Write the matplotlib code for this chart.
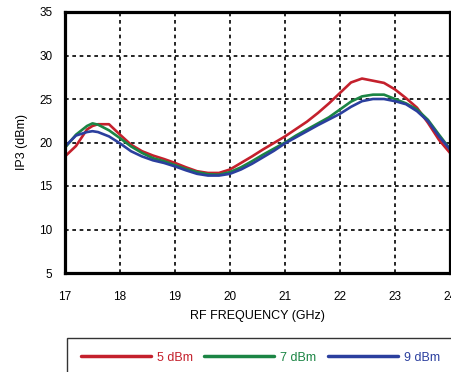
#!/usr/bin/env python3
"""IP3 versus RF frequency for three LO drive levels."""

import matplotlib.pyplot as plt
import numpy as np

plt.rcParams['font.family'] = ['Liberation Sans', 'DejaVu Sans']

freq_ghz = [17.0, 17.2, 17.4, 17.5, 17.6, 17.8, 18.0, 18.2, 18.4, 18.6, 18.8,
            19.0, 19.2, 19.4, 19.6, 19.8, 20.0, 20.2, 20.4, 20.6, 20.8,
            21.0, 21.2, 21.4, 21.6, 21.8, 22.0, 22.2, 22.4, 22.6, 22.8,
            23.0, 23.2, 23.4, 23.6, 23.8, 24.0]

ip3_5dbm = [18.4, 19.6, 21.5, 21.9, 22.1, 22.1, 20.9, 19.75, 19.0, 18.5, 18.1,
            17.65, 17.15, 16.7, 16.5, 16.5, 16.9, 17.65, 18.4, 19.2, 19.95,
            20.7, 21.55, 22.4, 23.4, 24.5, 25.7, 26.9, 27.35, 27.1, 26.85,
            26.1, 25.1, 24.0, 22.25, 20.3, 18.8]

ip3_7dbm = [19.4, 20.9, 21.9, 22.2, 22.05, 21.4, 20.5, 19.55, 18.8, 18.2, 17.85,
            17.4, 16.95, 16.6, 16.35, 16.3, 16.6, 17.15, 17.85, 18.6, 19.3,
            20.0, 20.8, 21.5, 22.2, 22.9, 23.8, 24.7, 25.3, 25.5, 25.5,
            25.0, 24.5, 23.8, 22.6, 20.9, 19.25]

ip3_9dbm = [19.55, 20.8, 21.2, 21.3, 21.2, 20.7, 19.9, 19.0, 18.4, 17.95, 17.65,
            17.25, 16.8, 16.4, 16.2, 16.2, 16.4, 16.9, 17.55, 18.3, 19.05,
            19.9, 20.6, 21.3, 22.0, 22.65, 23.3, 24.1, 24.75, 25.0, 25.0,
            24.75, 24.4, 23.6, 22.45, 20.7, 19.2]

series = [
    ("5 dBm", ip3_5dbm, "#c4202c"),
    ("7 dBm", ip3_7dbm, "#1b8544"),
    ("9 dBm", ip3_9dbm, "#2b3f9e"),
]

x_ticks = np.arange(17, 25, 1)
y_ticks = np.arange(5, 36, 5)

fig = plt.figure(figsize=(4.52, 3.72), dpi=100)
ax = fig.add_axes([65 / 452, 1 - 273 / 372, 385 / 452, 261 / 372])

for label, values, color in series:
    ax.plot(freq_ghz, values, color=color, linewidth=1.9, label=label,
            solid_joinstyle="round", solid_capstyle="round")

ax.set_xlim(17, 24)
ax.set_ylim(5, 35)
ax.set_xticks(x_ticks)
ax.set_yticks(y_ticks)
ax.tick_params(axis="both", length=0, labelsize=8.5)
ax.tick_params(axis="x", pad=13)
ax.tick_params(axis="y", pad=9)
ax.grid(True, color="black", linestyle=(0, (2.2, 2.2)), linewidth=1.2)
for spine in ax.spines.values():
    spine.set_linewidth(2.3)

ax.set_xlabel("RF FREQUENCY (GHz)", fontsize=9, labelpad=5)
ax.set_ylabel("IP3 (dBm)", fontsize=9, labelpad=8)

handles, labels = ax.get_legend_handles_labels()
leg = fig.legend(
    handles, labels,
    loc="upper left",
    bbox_to_anchor=(67 / 452, 1 - 338 / 372),
    ncol=3,
    fontsize=9,
    frameon=True,
    fancybox=False,
    borderpad=1.1,
    handlelength=5.6,
    handletextpad=0.5,
    columnspacing=0.9,
    borderaxespad=0,
)
leg.get_frame().set_edgecolor("black")
leg.get_frame().set_linewidth(1.0)
for text, (_, _, color) in zip(leg.get_texts(), series):
    text.set_color(color)
for line in leg.get_lines():
    line.set_linewidth(2.5)

fig.savefig("out.png", dpi=100)
